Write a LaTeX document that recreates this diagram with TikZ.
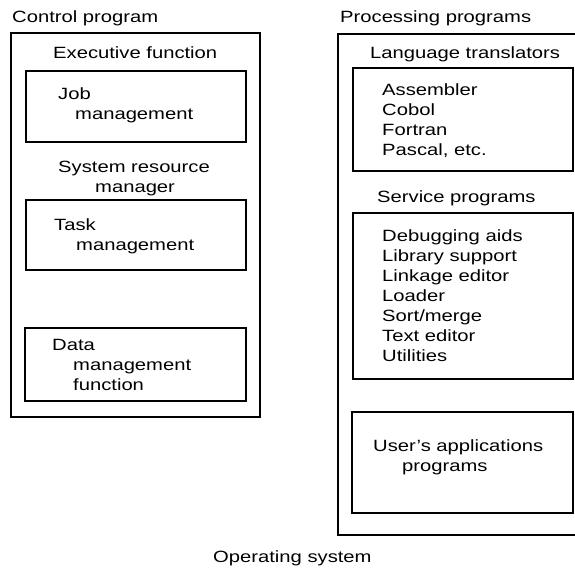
\documentclass[tikz,border=0pt]{standalone}
\usepackage{fontspec}
\setmainfont{Liberation Sans}[FakeStretch=1.24]
\begin{document}
\begin{tikzpicture}[x=1pt,y=-1pt,
  box/.style={draw, line width=1.2pt, inner sep=0pt},
  lbl/.style={anchor=base west, inner sep=0pt, font=\fontsize{16.3}{20}\selectfont}]
\useasboundingbox (0,0) rectangle (575,568);
% left column
\node[box, minimum width=249pt, minimum height=384pt] (ctrl) at (135.5,225) {};
\node[box, minimum width=220pt, minimum height=71pt] (job) at (136,106.5) {};
\node[box, minimum width=220pt, minimum height=70pt] (task) at (136,235) {};
\node[box, minimum width=221pt, minimum height=73pt] (data) at (135.5,364.5) {};
\node[lbl] (tctrl) at (12,22) {Control program};
\node[lbl] (texec) at (53,58) {Executive function};
\node[lbl] (tjob1) at (58,99) {Job};
\node[lbl] (tjob2) at (75,119) {management};
\node[lbl] (tsys1) at (58,172) {System resource};
\node[lbl] (tsys2) at (95,192) {manager};
\node[lbl] (ttask1) at (54,230) {Task};
\node[lbl] (ttask2) at (76,250) {management};
\node[lbl] (tdata1) at (52,350) {Data};
\node[lbl] (tdata2) at (73,370) {management};
\node[lbl] (tdata3) at (73,390) {function};
% right column
\coordinate (ptr) at (575,34);
\coordinate (ptl) at (338,34);
\coordinate (pbl) at (338,535);
\coordinate (pbr) at (575,535);
\draw[line width=1.2pt] (ptr) -- (ptl) -- (pbl) -- (pbr);
\node[box, minimum width=220pt, minimum height=103pt] (lang) at (463,119.5) {};
\node[box, minimum width=220pt, minimum height=166pt] (serv) at (463,296) {};
\node[box, minimum width=221pt, minimum height=101pt] (user) at (462.5,462.5) {};
\node[lbl] (tproc) at (340,22) {Processing programs};
\node[lbl] (tlang) at (370,58) {Language translators};
\node[lbl] (tasm) at (382,95) {Assembler};
\node[lbl] (tcob) at (382,115) {Cobol};
\node[lbl] (tfor) at (382,135) {Fortran};
\node[lbl] (tpas) at (382,155) {Pascal, etc.};
\node[lbl] (tserv) at (377,202) {Service programs};
\node[lbl] (tdbg) at (382,241) {Debugging aids};
\node[lbl] (tlib) at (382,261) {Library support};
\node[lbl] (tlnk) at (382,281) {Linkage editor};
\node[lbl] (tldr) at (382,301) {Loader};
\node[lbl] (tsrt) at (382,321) {Sort/merge};
\node[lbl] (ttxt) at (382,341) {Text editor};
\node[lbl] (tutl) at (382,361) {Utilities};
\node[lbl] (tusr1) at (373,451) {User's applications};
\node[lbl] (tusr2) at (402,471) {programs};
% caption
\node[lbl] (tos) at (213,562) {Operating system};
\end{tikzpicture}
\end{document}
